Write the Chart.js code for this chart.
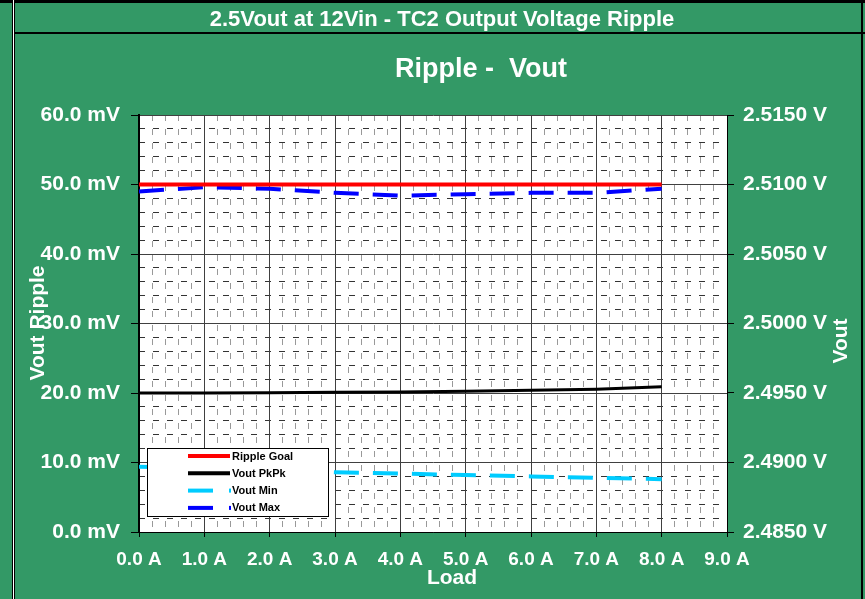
<!DOCTYPE html>
<html>
<head>
<meta charset="utf-8">
<title>2.5Vout at 12Vin - TC2 Output Voltage Ripple</title>
<script src="https://cdn.jsdelivr.net/npm/chart.js@4.4.1/dist/chart.umd.min.js"></script>
<style>
    html, body { margin: 0; padding: 0; background: #339966; }
    canvas { display: block; }
</style>
</head>
<body>
<canvas id="ripple-chart" width="865" height="599"></canvas>
<script>
// Load points (A)
const loads = [0, 1, 2, 3, 4, 5, 6, 7, 8];

// Left axis series (mV)
const rippleGoal = [50, 50, 50, 50, 50, 50, 50, 50, 50];
const voutPkPk = [20.0, 20.0, 20.05, 20.1, 20.15, 20.25, 20.4, 20.55, 20.9];

// Right axis series (V)
const voutMin = [2.4897, 2.4896, 2.4895, 2.4893, 2.4892, 2.4891, 2.4890, 2.4889, 2.4888];
const voutMax = [2.5095, 2.5098, 2.5097, 2.5094, 2.5092, 2.5093, 2.5094, 2.5094, 2.5097];

const seriesNames = ['Ripple Goal', 'Vout PkPk', 'Vout Min', 'Vout Max'];

const headerTitle = '2.5Vout at 12Vin - TC2 Output Voltage Ripple';
const chartTitle = 'Ripple -  Vout';
const xTitle = 'Load';
const yTitle = 'Vout Ripple';
const y1Title = 'Vout';

const FONT = '"Liberation Sans", Arial, sans-serif';
const GREEN = '#339966';

function toPoints(values) {
    return loads.map((x, i) => ({ x: x, y: values[i] }));
}

// green sheet, header cell and white plot area
const sheetBackground = {
    id: 'sheetBackground',
    beforeDraw(chart) {
        const ctx = chart.ctx;
        const area = chart.chartArea;
        ctx.save();
        ctx.fillStyle = GREEN;
        ctx.fillRect(0, 0, chart.width, chart.height);
        ctx.fillStyle = '#000';
        ctx.fillRect(0, 0, chart.width, 3);
        ctx.fillRect(13, 32, chart.width - 13, 2);
        ctx.fillRect(12, 0, 1, chart.height);
        ctx.fillStyle = '#fff';
        ctx.fillRect(13, 0, 1, chart.height);
        ctx.fillStyle = '#000';
        ctx.fillRect(14, 0, 1, chart.height);
        ctx.fillRect(861, 0, 2, chart.height);
        ctx.fillStyle = '#fff';
        ctx.fillRect(area.left, area.top, area.right - area.left, area.bottom - area.top);
        ctx.restore();
    }
};

// legend box drawn inside the plot, over the lines
const legendBox = {
    id: 'legendBox',
    afterDatasetsDraw(chart) {
        const ctx = chart.ctx;
        ctx.save();
        ctx.fillStyle = '#fff';
        ctx.fillRect(147, 448, 181, 68);
        ctx.strokeStyle = '#000';
        ctx.lineWidth = 1;
        ctx.strokeRect(147.5, 448.5, 181, 68);
        chart.data.datasets.forEach((ds, i) => {
            const y = 456 + i * 17.3;
            ctx.strokeStyle = ds.borderColor;
            ctx.lineWidth = 4;
            ctx.beginPath();
            ctx.moveTo(188, y);
            ctx.lineTo(ds.borderDash ? 213 : 230, y);
            ctx.stroke();
            if (ds.borderDash) {
                ctx.fillStyle = ds.borderColor;
                ctx.fillRect(229, y - 2, 2, 4);
            }
            ctx.fillStyle = '#000';
            ctx.font = 'bold 11px ' + FONT;
            ctx.textAlign = 'left';
            ctx.textBaseline = 'middle';
            ctx.fillText(ds.label, 232, y + 0.5);
        });
        ctx.restore();
    }
};

// titles and axis titles
const chartTexts = {
    id: 'chartTexts',
    afterDraw(chart) {
        const ctx = chart.ctx;
        ctx.save();
        ctx.fillStyle = '#fff';
        ctx.textAlign = 'center';
        ctx.textBaseline = 'middle';

        ctx.font = 'bold 22px ' + FONT;
        ctx.fillText(headerTitle, 442, 20);

        ctx.font = 'bold 27px ' + FONT;
        ctx.fillText(chartTitle, 481, 70);

        ctx.font = 'bold 21px ' + FONT;
        ctx.fillText(xTitle, 452, 578);

        ctx.save();
        ctx.translate(38, 323);
        ctx.rotate(-Math.PI / 2);
        ctx.fillText(yTitle, 0, 0);
        ctx.restore();

        ctx.save();
        ctx.translate(841, 341);
        ctx.rotate(-Math.PI / 2);
        ctx.fillText(y1Title, 0, 0);
        ctx.restore();

        ctx.restore();
    }
};

const tickFont = { family: FONT, size: 21, weight: 'bold' };

new Chart(document.getElementById('ripple-chart'), {
    type: 'line',
    data: {
        datasets: [
            {
                label: seriesNames[0],
                data: toPoints(rippleGoal),
                borderColor: '#ff0000',
                borderWidth: 4,
                yAxisID: 'y'
            },
            {
                label: seriesNames[1],
                data: toPoints(voutPkPk),
                borderColor: '#000000',
                borderWidth: 3,
                yAxisID: 'y'
            },
            {
                label: seriesNames[2],
                data: toPoints(voutMin),
                borderColor: '#00ccff',
                borderWidth: 4,
                borderDash: [25, 14],
                yAxisID: 'y1'
            },
            {
                label: seriesNames[3],
                data: toPoints(voutMax),
                borderColor: '#0000ff',
                borderWidth: 4,
                borderDash: [25, 14],
                yAxisID: 'y1'
            }
        ]
    },
    options: {
        responsive: false,
        animation: false,
        devicePixelRatio: 1,
        layout: { padding: { top: 115, left: 0, right: 0, bottom: 0 } },
        elements: {
            point: { radius: 0 },
            line: { tension: 0, fill: false }
        },
        plugins: {
            legend: { display: false },
            title: { display: false },
            tooltip: { enabled: false }
        },
        scales: {
            xMinor: {
                type: 'linear',
                position: 'bottom',
                min: 0,
                max: 9,
                ticks: { display: false, stepSize: 0.2, autoSkip: false },
                grid: {
                    drawTicks: false,
                    color: c => (Math.round(c.tick.value * 10) % 10 === 0 ? 'rgba(0,0,0,0)' : '#999999')
                },
                border: { display: false, dash: [6, 8] },
                afterFit(scale) { scale.height = 0; }
            },
            yMinor: {
                type: 'linear',
                position: 'left',
                min: 0,
                max: 60,
                ticks: { display: false, stepSize: 2, autoSkip: false },
                grid: {
                    drawTicks: false,
                    color: c => (Math.round(c.tick.value) % 10 === 0 ? 'rgba(0,0,0,0)' : '#333333')
                },
                border: { display: false, dash: [6, 8] },
                afterFit(scale) { scale.width = 0; }
            },
            x: {
                type: 'linear',
                position: 'bottom',
                min: 0,
                max: 9,
                ticks: {
                    stepSize: 1,
                    autoSkip: false,
                    maxRotation: 0,
                    color: '#ffffff',
                    padding: 11,
                    font: { family: FONT, size: 19, weight: 'bold' },
                    callback: v => v.toFixed(1) + ' A'
                },
                grid: { color: '#404040', tickColor: '#000000', tickLength: 5 },
                border: { color: '#000000', width: 1 },
                afterFit(scale) { scale.height = 67; }
            },
            y: {
                type: 'linear',
                position: 'left',
                min: 0,
                max: 60,
                ticks: {
                    stepSize: 10,
                    color: '#ffffff',
                    padding: 11,
                    font: tickFont,
                    callback: v => v.toFixed(1) + ' mV'
                },
                grid: { color: '#404040', tickColor: '#000000', tickLength: 8 },
                border: { color: '#000000', width: 2 },
                afterFit(scale) { scale.width = 139; }
            },
            y1: {
                type: 'linear',
                position: 'right',
                min: 2.485,
                max: 2.515,
                ticks: {
                    stepSize: 0.005,
                    color: '#ffffff',
                    padding: 9,
                    font: tickFont,
                    callback: v => v.toFixed(4) + ' V'
                },
                grid: { drawOnChartArea: false, tickColor: '#000000', tickLength: 7 },
                border: { color: '#000000', width: 1 },
                afterFit(scale) { scale.width = 138; }
            }
        }
    },
    plugins: [sheetBackground, legendBox, chartTexts]
});
</script>
</body>
</html>
